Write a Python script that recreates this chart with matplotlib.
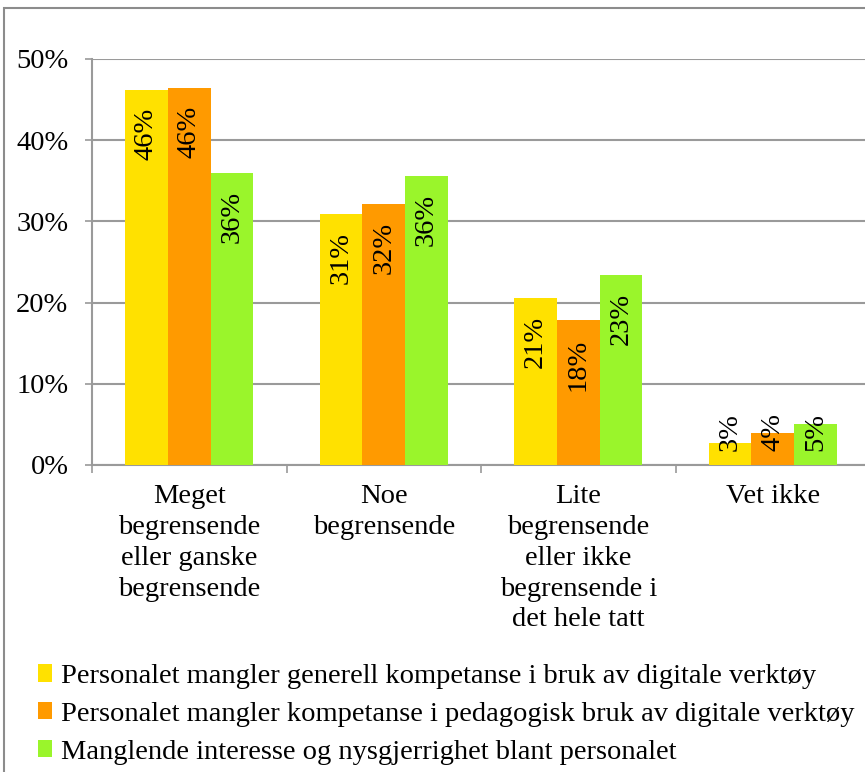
import matplotlib.pyplot as plt
import numpy as np
from matplotlib.patches import Rectangle

plt.rcParams['font.family'] = ['Liberation Serif', 'DejaVu Serif']

categories = ['Meget\nbegrensende\neller ganske\nbegrensende',
              'Noe\nbegrensende',
              'Lite\nbegrensende\neller ikke\nbegrensende i\ndet hele tatt',
              'Vet ikke']
series = ['Personalet mangler generell kompetanse i bruk av digitale verktøy',
          'Personalet mangler kompetanse i pedagogisk bruk av digitale verktøy',
          'Manglende interesse og nysgjerrighet blant personalet']
generell = [46.2, 30.9, 20.6, 2.7]
pedagogisk = [46.4, 32.2, 17.8, 3.9]
interesse = [36.0, 35.6, 23.4, 5.0]
colors = ['#FFE100', '#FF9A00', '#9AF52B']

W, H = 865, 772
fig = plt.figure(figsize=(W / 100, H / 100), dpi=100)
ax = fig.add_axes([92 / W, (H - 465) / H, 778 / W, 406 / H])

x = np.arange(len(categories))
bw = 0.22
fs = 20.5
for i, (vals, c, name) in enumerate(zip([generell, pedagogisk, interesse], colors, series)):
    xs = x + (i - 1) * bw
    ax.bar(xs, vals, bw, color=c, label=name, zorder=3)
    for xi, v in zip(xs, vals):
        ytop = max(v, 8.6) - 2.2
        ax.text(xi, ytop, '%d%%' % round(v), rotation=90, ha='center', va='top',
                fontsize=fs, zorder=4)

ax.set_xlim(-0.5, 3.5)
ax.set_ylim(0, 50)
ax.set_yticks(np.arange(0, 51, 10))
ax.set_yticklabels(['%d%%' % t for t in range(0, 51, 10)], fontsize=fs)
ax.yaxis.grid(True, color='#9a9a9a', lw=1.5, zorder=0)
ax.tick_params(axis='y', length=5, width=1.2, color='#9a9a9a', pad=12)

ax.set_xticks(x)
ax.set_xticklabels(categories, fontsize=fs, linespacing=1.3, ha='center', va='top')
ax.set_xticks(np.arange(-0.5, 3.6, 1), minor=True)
ax.tick_params(axis='x', which='major', length=0, pad=14)
ax.tick_params(axis='x', which='minor', length=6, width=1.2, color='#9a9a9a')

for s in ['top', 'right']:
    ax.spines[s].set_visible(False)
for s in ['left', 'bottom']:
    ax.spines[s].set_color('#9a9a9a')
    ax.spines[s].set_linewidth(1.5)

fig.legend(loc='upper left', bbox_to_anchor=(38 / W, (H - 664) / H), frameon=False,
           fontsize=fs, handlelength=0.5, handleheight=0.55, handletextpad=0.3,
           labelspacing=0.45, borderaxespad=0, borderpad=0)

# chart area frame
fig.patches.append(Rectangle((4 / W, -0.1), 1.2, (H - 8) / H + 0.1, transform=fig.transFigure,
                             fill=False, edgecolor='#8c8c8c', lw=1.5))

fig.savefig('out.png', dpi=100)
